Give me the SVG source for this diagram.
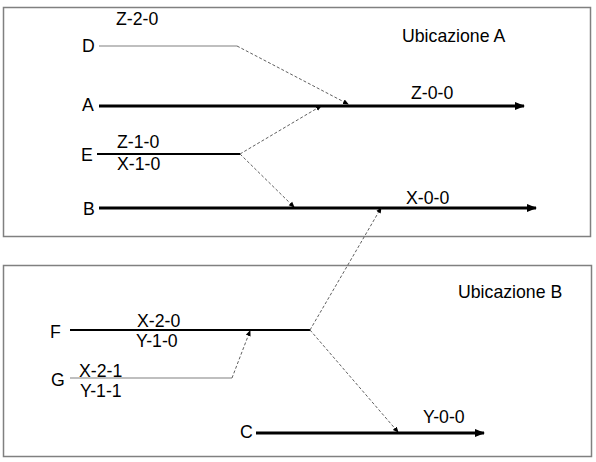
<svg xmlns="http://www.w3.org/2000/svg" width="596" height="462" viewBox="0 0 596 462">
<style>
text{font-family:"Liberation Sans",Arial,sans-serif;font-size:17.7px;fill:#000}
.box{fill:#fff;stroke:#808080;stroke-width:1.5}
.thick{stroke:#000;stroke-width:3;fill:none}
.mid{stroke:#000;stroke-width:2;fill:none}
.thin{stroke:#808080;stroke-width:1.2;fill:none}
.dash{stroke:#606060;stroke-width:1;stroke-dasharray:3 2;fill:none}
</style>
<defs>
<marker id="big" markerWidth="10" markerHeight="8" refX="9" refY="4" orient="auto" markerUnits="userSpaceOnUse"><path d="M0,0 L10,4 L0,8 z" fill="#000"/></marker>
<marker id="sm" markerWidth="6" markerHeight="6" refX="5" refY="3" orient="auto" markerUnits="userSpaceOnUse"><path d="M0,0.5 L6,3 L0,5.5 z" fill="#000"/></marker>
</defs>
<rect width="596" height="462" fill="#fff"/>
<g id="ubicazioneA"><rect class="box" x="3.5" y="7.5" width="587" height="229"/><text x="402" y="42">Ubicazione A</text></g>
<g id="ubicazioneB"><rect class="box" x="3.5" y="265.5" width="588" height="191"/><text x="458" y="298">Ubicazione B</text></g>
<g id="D"><text x="82" y="52">D</text><text x="116" y="25">Z-2-0</text><line class="thin" x1="99" y1="46" x2="237" y2="46"/></g>
<g id="A"><text x="82" y="111">A</text><text x="411" y="99">Z-0-0</text><line class="thick" x1="99" y1="106" x2="524" y2="106" marker-end="url(#big)"/></g>
<g id="E"><text x="81" y="161">E</text><text x="117" y="148">Z-1-0</text><text x="117" y="170">X-1-0</text><line class="mid" x1="97" y1="154" x2="240" y2="154"/></g>
<g id="B"><text x="83" y="215">B</text><text x="406" y="204">X-0-0</text><line class="thick" x1="99" y1="208" x2="536" y2="208" marker-end="url(#big)"/></g>
<g id="F"><text x="50" y="338">F</text><text x="137" y="327">X-2-0</text><text x="136" y="347">Y-1-0</text><line class="mid" x1="70" y1="330" x2="310" y2="330"/></g>
<g id="G"><text x="51" y="386">G</text><text x="79" y="377">X-2-1</text><text x="80" y="397">Y-1-1</text><line class="thin" x1="70" y1="378" x2="232" y2="378"/></g>
<g id="C"><text x="240" y="438">C</text><text x="423" y="423">Y-0-0</text><line class="thick" x1="256" y1="433" x2="484" y2="433" marker-end="url(#big)"/></g>
<g id="connectors">
<line class="dash" x1="237" y1="46" x2="348" y2="104" marker-end="url(#sm)"/>
<line class="dash" x1="240" y1="154" x2="321" y2="106" marker-end="url(#sm)"/>
<line class="dash" x1="240" y1="154" x2="294" y2="207" marker-end="url(#sm)"/>
<line class="dash" x1="310" y1="330" x2="381" y2="208" marker-end="url(#sm)"/>
<line class="dash" x1="232" y1="378" x2="250" y2="331" marker-end="url(#sm)"/>
<line class="dash" x1="310" y1="330" x2="398" y2="432" marker-end="url(#sm)"/>
</g>
</svg>
